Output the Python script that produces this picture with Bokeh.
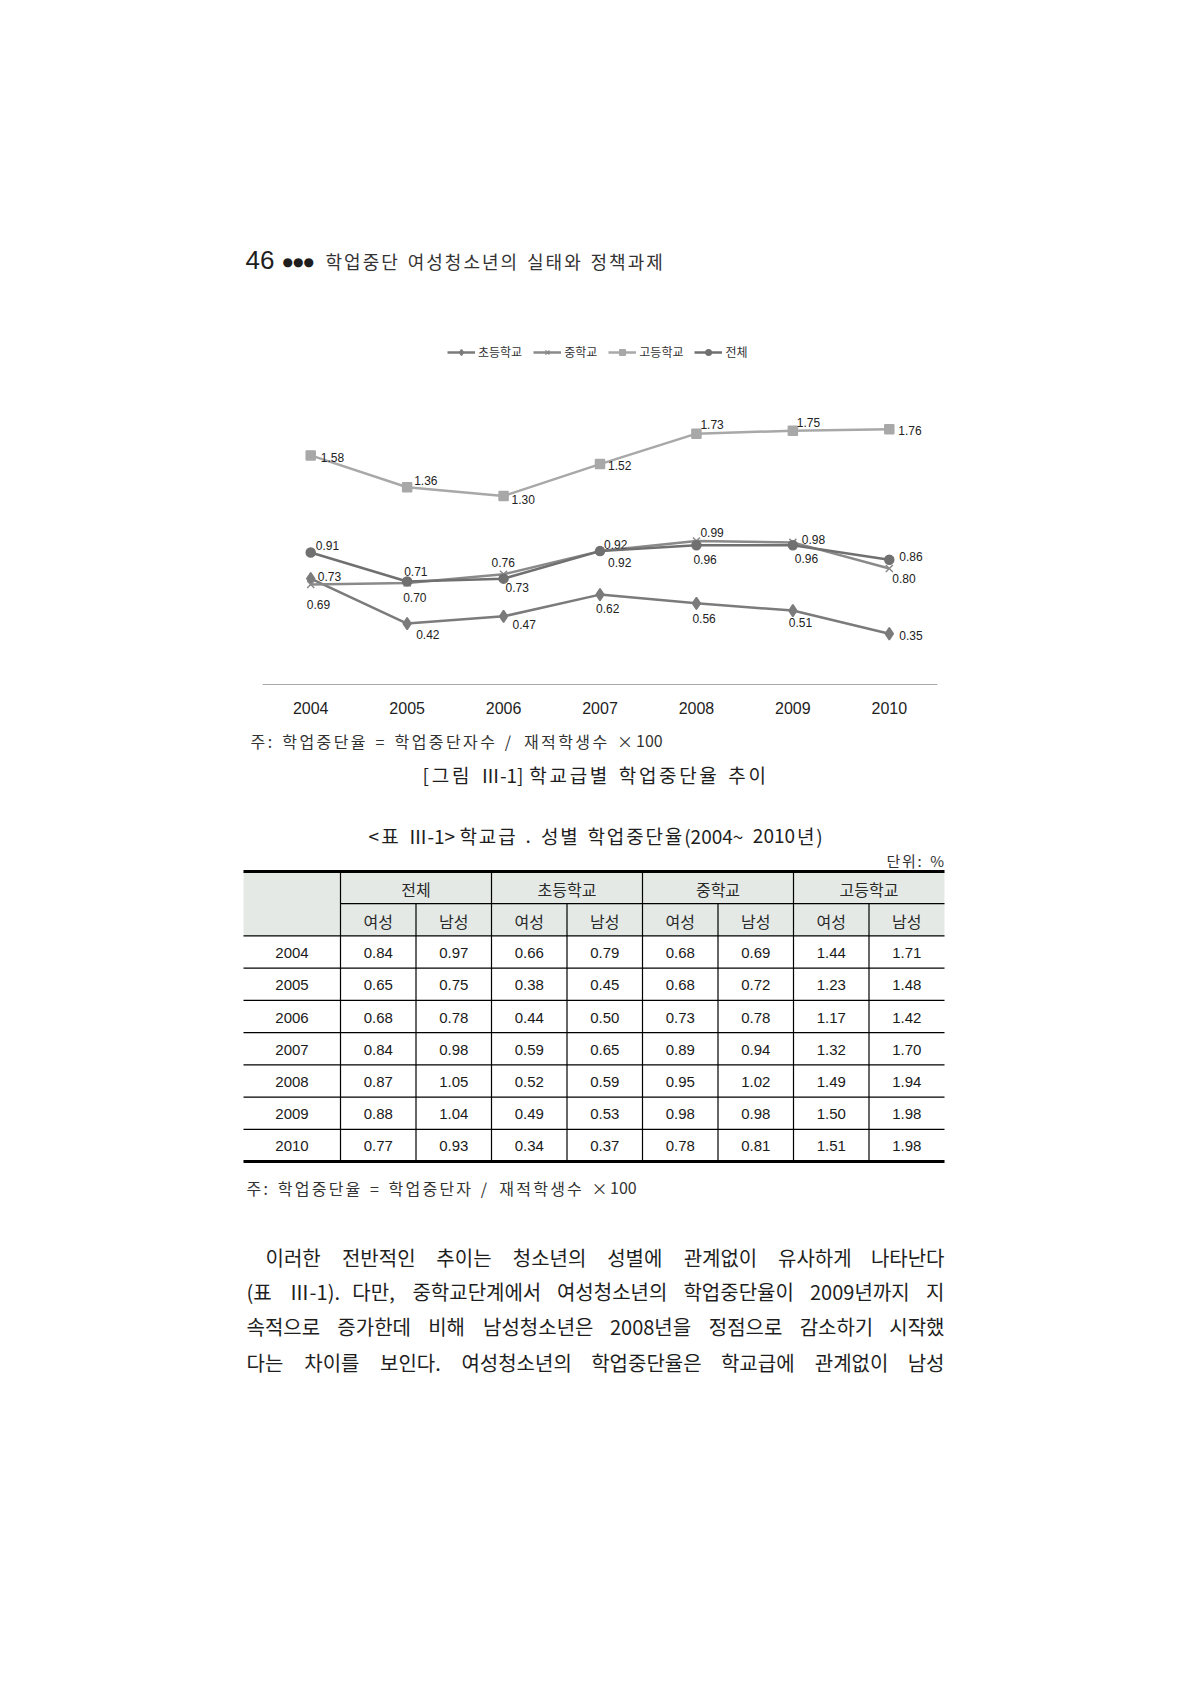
from bokeh.plotting import figure
from bokeh.models import Range1d, Legend, LegendItem, ColumnDataSource
from bokeh.embed import file_html
from bokeh.resources import INLINE
from bokeh.core.properties import value

# ---------------- data ----------------
years = [2004, 2005, 2006, 2007, 2008, 2009, 2010]
series_names = ["초등학교", "중학교", "고등학교", "전체"]
elementary = [0.73, 0.42, 0.47, 0.62, 0.56, 0.51, 0.35]
middle = [0.69, 0.70, 0.76, 0.92, 0.99, 0.98, 0.80]
high = [1.58, 1.36, 1.30, 1.52, 1.73, 1.75, 1.76]
total = [0.91, 0.71, 0.73, 0.92, 0.96, 0.96, 0.86]

table_groups = ["전체", "초등학교", "중학교", "고등학교"]
table_sexes = ["여성", "남성"]
t_total_f = [0.84, 0.65, 0.68, 0.84, 0.87, 0.88, 0.77]
t_total_m = [0.97, 0.75, 0.78, 0.98, 1.05, 1.04, 0.93]
t_elem_f = [0.66, 0.38, 0.44, 0.59, 0.52, 0.49, 0.34]
t_elem_m = [0.79, 0.45, 0.50, 0.65, 0.59, 0.53, 0.37]
t_mid_f = [0.68, 0.68, 0.73, 0.89, 0.95, 0.98, 0.78]
t_mid_m = [0.69, 0.72, 0.78, 0.94, 1.02, 0.98, 0.81]
t_high_f = [1.44, 1.23, 1.17, 1.32, 1.49, 1.50, 1.51]
t_high_m = [1.71, 1.48, 1.42, 1.70, 1.94, 1.98, 1.98]

header_num = "46"
header_title = "학업중단 여성청소년의 실태와 정책과제"
note_fig = "주: 학업중단율 = 학업중단자수 / 재적학생수 × 100"
caption_fig = "[그림 Ⅲ-1] 학교급별 학업중단율 추이"
caption_table = "<표 Ⅲ-1> 학교급 . 성별 학업중단율(2004~ 2010년)"
unit_text = "단위: %"
note_table = "주: 학업중단율 = 학업중단자 / 재적학생수 × 100"
paragraph = [
    "이러한 전반적인 추이는 청소년의 성별에 관계없이 유사하게 나타난다",
    "(표 Ⅲ-1). 다만, 중학교단계에서 여성청소년의 학업중단율이 2009년까지 지",
    "속적으로 증가한데 비해 남성청소년은 2008년을 정점으로 감소하기 시작했",
    "다는 차이를 보인다. 여성청소년의 학업중단율은 학교급에 관계없이 남성",
]

# ---------------- styles / layout ----------------
W, H = 1188, 1682
KR = "Noto Sans CJK KR"
NUM = "Liberation Sans"
INK = "#1e1e1e"

# chart geometry (page pixels)
CH_LEFT, CH_RIGHT, CH_ZERO = 262, 937, 684
PX_PER_UNIT = 145.0
PX_PER_YEAR = (CH_RIGHT - CH_LEFT) / len(years)
FIRST_CENTER = CH_LEFT + PX_PER_YEAR / 2

# label offsets (screen px, right / down)
off = {
    "elementary": ([7, 9, 9, -4, -4, -4, 10], [-2, 11, 8, 14, 15, 12, 2]),
    "middle": ([-4, -4, -12, 4, 4, 9, 3], [20, 14, -12, -7, -8, -3, 10]),
    "high": ([10, 7, 8, 8, 4, 4, 9], [2, -7, 3, 1, -9, -8, 1]),
    "total": ([5, -3, 2, 8, -3, 2, 10], [-7, -10, 9, 11, 14, 13, -3]),
}

p = figure(width=W, height=H, x_range=Range1d(0, W), y_range=Range1d(H, 0),
           output_backend="svg", toolbar_location=None, min_border=0,
           x_axis_location=None, y_axis_location=None)
p.grid.visible = False
p.outline_line_color = None
p.extra_x_ranges = {"cx": Range1d(years[0] - FIRST_CENTER / PX_PER_YEAR,
                                  years[0] + (W - FIRST_CENTER) / PX_PER_YEAR)}
p.extra_y_ranges = {"cy": Range1d(-(H - CH_ZERO) / PX_PER_UNIT, CH_ZERO / PX_PER_UNIT)}


def is_hangul(ch):
    return 0xAC00 <= ord(ch) <= 0xD7A3


def est_w(s, fs):
    w = 0.0
    for ch in s:
        if is_hangul(ch):
            w += 0.9 * fs
        elif ch.isdigit():
            w += 0.55 * fs
        elif ch in ".,:;":
            w += 0.28 * fs
        elif ch in "()[]":
            w += 0.33 * fs
        elif ch == "Ⅲ":
            w += 0.7 * fs
        elif ch == "-":
            w += 0.35 * fs
        elif ch == " ":
            w += 0.3 * fs
        else:
            w += 0.55 * fs
    return w


def justify(line, x0, x1, y, fs, font=KR, color=INK):
    words = line.split(" ")
    widths = [est_w(w, fs) for w in words]
    gap = (x1 - x0 - sum(widths)) / max(len(words) - 1, 1)
    xs, al = [], []
    x = x0
    for i, ww in enumerate(widths):
        if i == len(words) - 1 and len(words) > 1:
            xs.append(x1); al.append("right")
        else:
            xs.append(x); al.append("left")
        x += ww + gap
    p.text(x=xs, y=[y] * len(words), text=words, text_align=al,
           text_font=value(font), text_font_size=f"{fs}px",
           text_baseline="middle", text_color=color)


def tokens_of(line):
    toks, cur = [], ""
    for ch in line:
        if is_hangul(ch) or ch == " ":
            if cur:
                toks.append(cur); cur = ""
            toks.append(ch)
        else:
            cur += ch
    if cur:
        toks.append(cur)
    return toks


def track(line, x0, x1, y, fs, font=KR, color=INK):
    """letter-spaced text filling x0..x1"""
    toks = tokens_of(line)
    widths = [est_w(t, fs) for t in toks]
    extra = (x1 - x0 - sum(widths)) / max(len(toks) - 1, 1)
    xs, ts = [], []
    x = x0
    for t, ww in zip(toks, widths):
        if t != " ":
            xs.append(x); ts.append(t)
        x += ww + extra
    p.text(x=xs, y=[y] * len(xs), text=ts, text_align="left",
           text_font=value(font), text_font_size=f"{fs}px",
           text_baseline="middle", text_color=color)


def txt(x, y, s, size, font=KR, align="left", color=INK):
    p.text(x=[x], y=[y], text=[s], text_font=value(font), text_font_size=size,
           text_baseline="middle", text_align=align, text_color=color)


# ---------------- running header ----------------
txt(245, 259, header_num, "26px", font=NUM)
txt(282, 261, "●●●", "12px", font="DejaVu Sans")
track(header_title, 325, 662, 260, 18, color="#333333")

# ---------------- chart ----------------
CX = dict(x_range_name="cx", y_range_name="cy")
p.segment(x0=[years[0] - 0.5], y0=[0], x1=[years[-1] + 0.5], y1=[0],
          line_color="#a8a8a8", line_width=1, **CX)
p.text(x=years, y=[-23 / PX_PER_UNIT] * len(years), text=[str(y) for y in years],
       text_font=value(NUM), text_font_size="16px", text_align="center",
       text_baseline="middle", text_color=INK, **CX)

src = ColumnDataSource(dict(year=years, elementary=elementary, middle=middle,
                            high=high, total=total))
styles = [
    ("elementary", "diamond", 12, "#7b7b7b"),
    ("middle", "x", 10, "#8a8a8a"),
    ("high", "square", 9, "#a8a8a8"),
    ("total", "circle", 9, "#707070"),
]
items = []
for (key, marker, size, color), name in zip(styles, series_names):
    r_line = p.line("year", key, source=src, line_color=color, line_width=2.5, **CX)
    r_pt = p.scatter("year", key, source=src, marker=marker, size=size,
                     line_color=color, fill_color=color, line_width=1.5, **CX)
    items.append(LegendItem(label=name, renderers=[r_line, r_pt]))
    vals = src.data[key]
    lab = ColumnDataSource(dict(year=years, v=vals, t=[f"{v:.2f}" for v in vals],
                                dx=off[key][0], dy=off[key][1]))
    p.text("year", "v", text="t", source=lab, x_offset="dx", y_offset="dy",
           text_font=value(NUM), text_font_size="12px",
           text_baseline="middle", text_align="left", text_color="#222222", **CX)

legend = Legend(items=items, orientation="horizontal", location=(447, H - 360),
                margin=0, padding=0, spacing=11, glyph_width=28, glyph_height=14,
                label_standoff=3, label_text_font=KR, label_text_font_size="12px",
                label_text_color="#333333", background_fill_alpha=0,
                border_line_color=None)
p.add_layout(legend)

# ---------------- captions ----------------
track(note_fig, 250, 662, 740, 16, color="#333333")
track(caption_fig, 422, 765, 774, 19)
track(caption_table, 368, 822, 835, 19)
track(unit_text, 886, 938, 860, 15, color="#333333")

# ---------------- table ----------------
T_LEFT, T_STUB, T_RIGHT, T_TOP, T_BOTTOM = 243, 340, 944, 871, 1161
ROW_H = (T_BOTTOM - T_TOP) / 9
col_w = (T_RIGHT - T_STUB) / 8
edges = [T_STUB + i * col_w for i in range(9)]
row_y = [T_TOP + i * ROW_H for i in range(10)]

p.quad(left=[T_LEFT], right=[T_RIGHT], top=[row_y[0]], bottom=[row_y[2]],
       fill_color="#e4e9e6", line_color=None)
hx0 = [T_STUB] + [T_LEFT] * 7
hy = [row_y[1]] + row_y[2:9]
p.segment(x0=hx0, y0=hy, x1=[T_RIGHT] * len(hy), y1=hy, line_color="#000000", line_width=1.2)
p.segment(x0=[T_LEFT, T_LEFT], y0=[row_y[0], row_y[9]], x1=[T_RIGHT, T_RIGHT],
          y1=[row_y[0], row_y[9]], line_color="#000000", line_width=3)
major = [edges[0], edges[2], edges[4], edges[6]]
minor = [edges[1], edges[3], edges[5], edges[7]]
p.segment(x0=major, y0=[row_y[0]] * 4, x1=major, y1=[row_y[9]] * 4,
          line_color="#000000", line_width=1.2)
p.segment(x0=minor, y0=[row_y[1]] * 4, x1=minor, y1=[row_y[9]] * 4,
          line_color="#000000", line_width=1.2)

gx = [(edges[2 * i] + edges[2 * i + 2]) / 2 for i in range(4)]
p.text(x=gx, y=[(row_y[0] + row_y[1]) / 2 + 1] * 4, text=table_groups,
       text_font=value(KR), text_font_size="16px", text_baseline="middle",
       text_align="center", text_color="#2a2a2a")
cx = [(edges[i] + edges[i + 1]) / 2 for i in range(8)]
p.text(x=cx, y=[(row_y[1] + row_y[2]) / 2 + 1] * 8, text=table_sexes * 4,
       text_font=value(KR), text_font_size="16px", text_baseline="middle",
       text_align="center", text_color="#2a2a2a")

cols = [t_total_f, t_total_m, t_elem_f, t_elem_m, t_mid_f, t_mid_m, t_high_f, t_high_m]
tx, ty, tt = [], [], []
for r, yr in enumerate(years):
    yc = (row_y[2 + r] + row_y[3 + r]) / 2 + 1
    tx.append((T_LEFT + T_STUB) / 2); ty.append(yc); tt.append(str(yr))
    for c, colvals in enumerate(cols):
        tx.append(cx[c]); ty.append(yc); tt.append(f"{colvals[r]:.2f}")
p.text(x=tx, y=ty, text=tt, text_font=value(NUM), text_font_size="15px",
       text_baseline="middle", text_align="center", text_color="#1a1a1a")

track(note_table, 246, 636, 1187, 16, color="#333333")

# ---------------- justified paragraph ----------------
PFS = 20
para_y = [1257, 1291, 1326, 1362]
para_x0 = [265, 246, 246, 246]
for line, y0, x0 in zip(paragraph, para_y, para_x0):
    justify(line, x0, 944, y0, PFS)

open("out.html", "w").write(file_html(p, INLINE))
